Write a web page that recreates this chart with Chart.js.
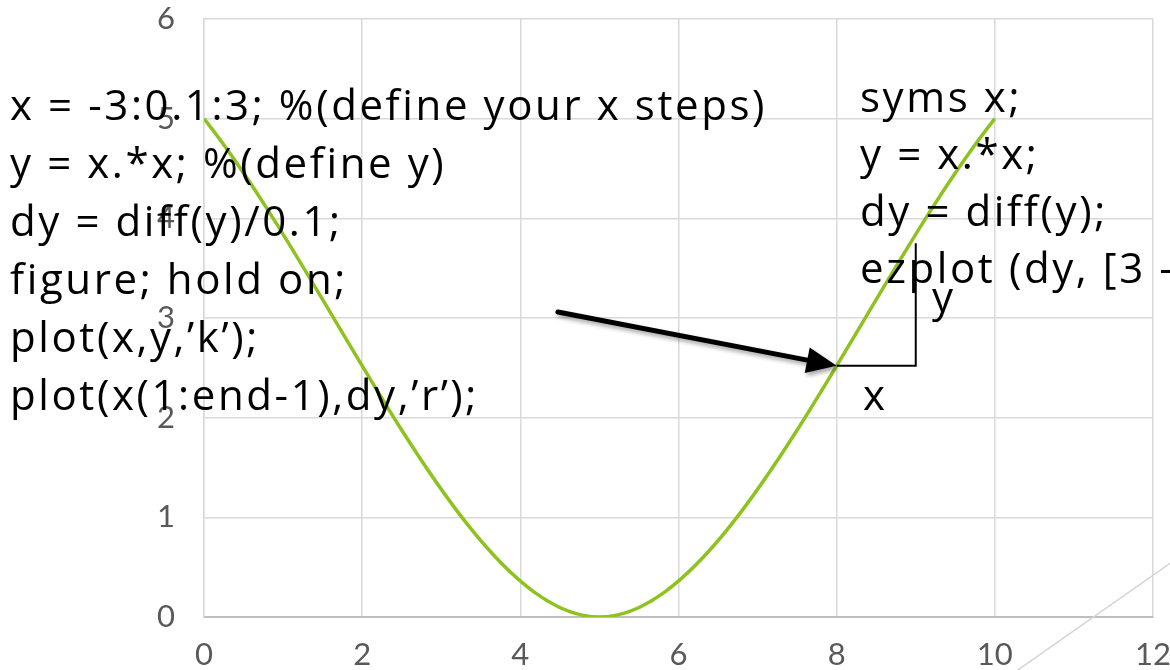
<!DOCTYPE html>
<html>
<head>
<meta charset="utf-8">
<script src="https://cdn.jsdelivr.net/npm/chart.js@4.4.1/dist/chart.umd.min.js"></script>
<style>
  html, body { margin: 0; padding: 0; background: #ffffff; }
  #wrap { width: 1170px; height: 670px; position: relative; }
</style>
</head>
<body>
<div id="wrap"><canvas id="curveChart"></canvas></div>
<script>
// data
const xValues = [0, 5, 10];
const yValues = [5, 0, 5];
const xRange = [0, 12];
const yRange = [0, 6];
const xStep = 2;
const yStep = 1;

// slide annotations
const leftCode = [
    'x = -3:0.1:3; %(define your x steps)',
    'y = x.*x; %(define y)',
    'dy = diff(y)/0.1;',
    'figure; hold on;',
    "plot(x,y,\u2019k\u2019);",
    "plot(x(1:end-1),dy,\u2019r\u2019);"
];
const rightCode = [
    'syms x;',
    'y = x.*x;',
    'dy = diff(y);',
    'ezplot (dy, [3 -'
];
const arrowFrom = [4.475, 3.06];
const arrowTo = [8, 2.52];
const cornerX = 9;
const cornerTop = 3.75;

const TICK_FONT = 'Lato, "Noto Sans", sans-serif';
const CODE_FONT = '"Open Sans", "Noto Sans", sans-serif';

const overlay = {
    id: 'overlay',
    afterDraw(chart) {
        const ctx = chart.ctx;
        const xs = chart.scales.x, ys = chart.scales.y;
        ctx.save();

        // thin decorative line at the bottom right
        ctx.strokeStyle = '#d4d4d4';
        ctx.lineWidth = 1.5;
        ctx.beginPath();
        ctx.moveTo(1015, 672);
        ctx.lineTo(1172, 562);
        ctx.stroke();

        // code text boxes
        ctx.fillStyle = '#000000';
        ctx.font = '42px ' + CODE_FONT;
        ctx.letterSpacing = '2.6px';
        ctx.textAlign = 'left';
        ctx.textBaseline = 'alphabetic';
        leftCode.forEach((t, i) => ctx.fillText(t, 10, 120 + i * 58));
        rightCode.forEach((t, i) => ctx.fillText(t, 860, 112 + i * 57));
        ctx.fillText('y', 932, 312);
        ctx.fillText('x', 863, 410);
        ctx.letterSpacing = '0px';

        // right angle x / y
        const px0 = xs.getPixelForValue(arrowTo[0]);
        const py0 = ys.getPixelForValue(arrowTo[1]);
        const px1 = xs.getPixelForValue(cornerX);
        const py1 = ys.getPixelForValue(cornerTop);
        ctx.strokeStyle = '#000000';
        ctx.lineWidth = 2;
        ctx.beginPath();
        ctx.moveTo(px0, py0);
        ctx.lineTo(px1, py0);
        ctx.lineTo(px1, py1);
        ctx.stroke();

        // arrow with soft shadow
        const ax = xs.getPixelForValue(arrowFrom[0]);
        const ay = ys.getPixelForValue(arrowFrom[1]);
        const ang = Math.atan2(py0 - ay, px0 - ax);
        const headLen = 30, headHalf = 13;
        const bx = px0 - headLen * Math.cos(ang);
        const by = py0 - headLen * Math.sin(ang);
        ctx.shadowColor = 'rgba(0,0,0,0.35)';
        ctx.shadowBlur = 4;
        ctx.shadowOffsetX = 2;
        ctx.shadowOffsetY = 3;
        ctx.lineWidth = 5;
        ctx.lineCap = 'round';
        ctx.beginPath();
        ctx.moveTo(ax, ay);
        ctx.lineTo(bx + 4 * Math.cos(ang), by + 4 * Math.sin(ang));
        ctx.stroke();
        ctx.beginPath();
        ctx.moveTo(px0, py0);
        ctx.lineTo(bx + headHalf * Math.sin(ang), by - headHalf * Math.cos(ang));
        ctx.lineTo(bx - headHalf * Math.sin(ang), by + headHalf * Math.cos(ang));
        ctx.closePath();
        ctx.fill();
        ctx.restore();
    }
};

new Chart(document.getElementById('curveChart'), {
    type: 'scatter',
    data: {
        datasets: [
            {
                label: 'y',
                data: xValues.map((x, i) => ({ x: x, y: yValues[i] })),
                showLine: true,
                borderColor: '#8dc21f',
                borderWidth: 3.5,
                pointRadius: 0,
                tension: 0.333,
                fill: false
            }
        ]
    },
    options: {
        responsive: true,
        maintainAspectRatio: false,
        animation: false,
        layout: {
            padding: { top: 19, right: 17, bottom: 0, left: 0 }
        },
        plugins: {
            legend: { display: false },
            title: { display: false },
            tooltip: { enabled: false }
        },
        scales: {
            x: {
                type: 'linear',
                min: xRange[0],
                max: xRange[1],
                grid: { color: '#d9d9d9', lineWidth: 1.5, drawTicks: false },
                border: { color: '#bfbfbf', width: 2 },
                ticks: {
                    stepSize: xStep,
                    color: '#595959',
                    font: { family: TICK_FONT, size: 31 },
                    padding: 19,
                    maxRotation: 0
                },
                afterFit(scale) {
                    scale.height = 53;
                    scale.paddingLeft = 0;
                    scale.paddingRight = 0;
                }
            },
            y: {
                type: 'linear',
                min: yRange[0],
                max: yRange[1],
                grid: { color: '#d9d9d9', lineWidth: 1.5, drawTicks: false },
                border: { color: '#d9d9d9', width: 1.5 },
                ticks: {
                    stepSize: yStep,
                    color: '#595959',
                    font: { family: TICK_FONT, size: 31 },
                    padding: 29
                },
                afterFit(scale) {
                    scale.width = 204;
                    scale.paddingTop = 0;
                    scale.paddingBottom = 0;
                }
            }
        }
    },
    plugins: [overlay]
});
</script>
</body>
</html>
